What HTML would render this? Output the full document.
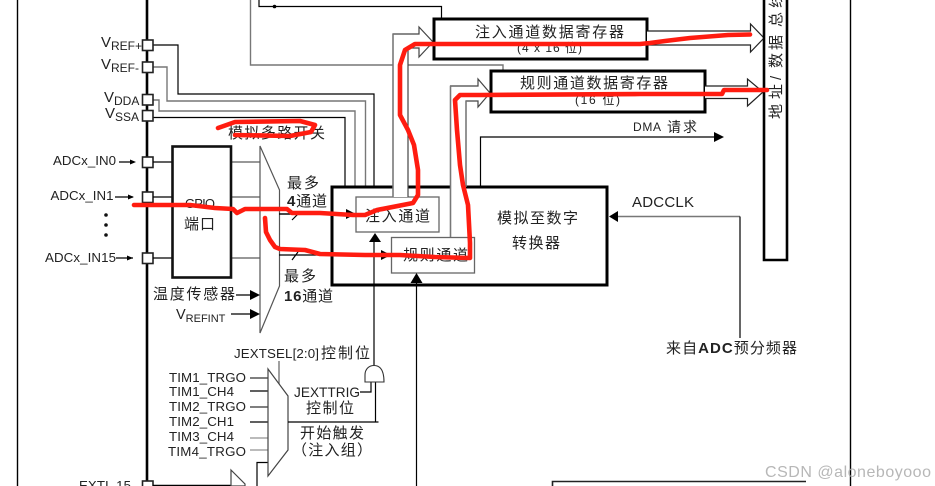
<!DOCTYPE html>
<html><head><meta charset="utf-8">
<style>
html,body{margin:0;padding:0;background:#fff;width:935px;height:486px;overflow:hidden}
svg{display:block}
text{font-family:"Liberation Sans","Noto Sans CJK SC",sans-serif;fill:#222}
.c{font-size:15px}
.l{font-size:13.3px}
.k{fill:none;stroke:#000;stroke-width:1.2}
.g{fill:none;stroke:#777;stroke-width:1.4}
.b{fill:#fff;stroke:#000;stroke-width:3}
.p{fill:#fff;stroke:#222;stroke-width:1.6}
.h{fill:#fff;stroke:#222;stroke-width:1.2}
.r{fill:none;stroke:#ff1c10;stroke-width:4.6;stroke-linejoin:round;stroke-linecap:round}
.base{filter:blur(.3px)}
</style></head><body>
<svg width="935" height="486" viewBox="0 0 935 486" xmlns="http://www.w3.org/2000/svg">
<rect width="935" height="486" fill="#fff"/>
<g class="base">
<!-- frame lines -->
<path d="M17.5 0V486M850.5 0V486" class="k" style="stroke-width:1.4"/>
<path d="M147 0V486" fill="none" stroke="#000" stroke-width="2.6"/>
<!-- top wires -->
<path d="M259 0V6.5H441.5V19" class="k"/>
<circle cx="274.5" cy="6.5" r="1.8" fill="#000"/>
<path d="M250.5 0V65H503V71" class="g"/>
<!-- supply wires -->
<path d="M153 45H178V94H374V187" class="k"/>
<path d="M153 67H167V101H365.5V187" class="g"/>
<path d="M153 100H159V111H355V187" class="g"/>
<path d="M153 117.5H345V187" class="k"/>
<!-- pins -->
<g class="p">
<rect x="142.5" y="40" width="10.5" height="10.5"/>
<rect x="142.5" y="62" width="10.5" height="10.5"/>
<rect x="142.5" y="94.5" width="10.5" height="10.5"/>
<rect x="142.5" y="110.5" width="10.5" height="10.5"/>
<rect x="142.5" y="157" width="10.5" height="10.5"/>
<rect x="142.5" y="192" width="10.5" height="10.5"/>
<rect x="142.5" y="253" width="10.5" height="10.5"/>
<rect x="142.5" y="481" width="10.5" height="10.5"/>
</g>
<!-- pin labels -->
<text x="101" y="47" font-size="15">V<tspan font-size="12" dy="3">REF+</tspan></text>
<text x="101" y="69" font-size="15">V<tspan font-size="12" dy="3">REF-</tspan></text>
<text x="104" y="102" font-size="15">V<tspan font-size="12" dy="3">DDA</tspan></text>
<text x="105" y="118" font-size="15">V<tspan font-size="12" dy="3">SSA</tspan></text>
<text class="l" x="53" y="165" textLength="63">ADCx_IN0</text>
<text class="l" x="50.5" y="200" textLength="63">ADCx_IN1</text>
<text class="l" x="45" y="262" textLength="71">ADCx_IN15</text>
<text class="l" x="79" y="490" textLength="52">EXTI_15</text>
<path d="M119 162H134M115 197H133M116 258H133" class="k"/>
<path d="M136 162l-6-2.5v5zM134 197l-6-2.5v5zM133 258l-6-2.5v5z" fill="#000"/>
<circle cx="106" cy="215" r="1.8" fill="#111"/><circle cx="106" cy="225" r="1.8" fill="#111"/><circle cx="106" cy="235" r="1.8" fill="#111"/>
<!-- GPIO -->
<path d="M153 162H172M153 197H172M153 258H172" class="k"/>
<path d="M231 162H260M231 197H260M231 258H260" class="g"/>
<rect x="172.5" y="146.5" width="58.5" height="131" fill="#fff" stroke="#111" stroke-width="2.6"/>
<text x="185" y="208" font-size="13" textLength="30">GPIO</text>
<text class="c" x="184" y="229" textLength="31">端口</text>
<!-- analog mux -->
<path d="M260 146L279.5 190V286L260 333Z" fill="#fff" stroke="#555" stroke-width="1.2"/>
<text class="c" x="228" y="138" textLength="97">模拟多路开关</text>
<text class="c" x="287" y="188" textLength="32">最多</text>
<text class="c" x="287" y="206" textLength="40"><tspan font-weight="bold">4</tspan>通道</text>
<text class="c" x="284" y="281" textLength="32">最多</text>
<text class="c" x="284" y="301" textLength="49"><tspan font-weight="bold">16</tspan>通道</text>
<text class="c" x="153" y="299" textLength="82">温度传感器</text>
<text x="176" y="319" font-size="14.5">V<tspan font-size="11" dy="3">REFINT</tspan></text>
<path d="M236 295H250M231 314H250" class="k"/>
<path d="M260 295l-10-5v10zM260 314l-10-5v10z" fill="#000"/>
<!-- channel wires -->
<path d="M279 214H348M279 255H382" class="k"/>
<path d="M292 220L298 214M292 260L298 252" class="k"/>
<path d="M356 214l-10-5v10zM391 255l-10-5v10z" fill="#000"/>
<!-- ADC box -->
<rect x="332" y="187" width="275" height="98" class="b"/>
<path d="M279 214H348M345 255H382" class="k"/>
<path d="M356 214l-10-5v10zM391 255l-10-5v10z" fill="#000"/>
<rect x="356" y="197" width="83" height="35" fill="#fff" stroke="#666" stroke-width="1.3"/>
<rect x="391.5" y="237.5" width="83" height="35.5" fill="#fff" stroke="#666" stroke-width="1.3"/>
<path d="M374 242V382" class="k"/>
<path d="M375 233l-6 9h12z" fill="#000"/>
<path d="M416.5 486V283" class="k"/>
<path d="M416.5 273l-6 10h12z" fill="#000"/>
<text class="c" x="365" y="221" textLength="65">注入通道</text>
<text class="c" x="403" y="260" textLength="65">规则通道</text>
<text class="c" x="497" y="223" textLength="81">模拟至数字</text>
<text class="c" x="512" y="248" textLength="48">转换器</text>
<!-- hollow arrows to registers -->
<path d="M393 197V34H419V27L433 42L419 57V48H408V197" fill="#fff" stroke="#444" stroke-width="1.2"/>
<path d="M393 34V197" class="g"/>
<path d="M450.5 237V86H478V79L490 93L478 107V101H466V187" fill="#fff" stroke="#444" stroke-width="1.2"/>
<path d="M450.5 86V237M466 101V187" class="g"/>
<!-- registers -->
<rect x="434" y="19" width="213" height="40" class="b"/>
<rect x="491" y="71" width="214" height="41" class="b"/>
<text class="c" x="475" y="37" textLength="149">注入通道数据寄存器</text>
<text x="517" y="52" font-size="12" textLength="65">(4 x 16 位)</text>
<text class="c" x="520" y="88" textLength="148">规则通道数据寄存器</text>
<text x="575" y="104" font-size="12" textLength="45">(16 位)</text>
<!-- output arrows -->
<path d="M647 31H750.5V24L764 38L750.5 52V45H647" class="h"/>
<path d="M705 86H747.5V79L763 92L747.5 106V98.5H705" class="h"/>
<!-- bus -->
<path d="M764 0V260H787V0" fill="#fff" stroke="#000" stroke-width="2.6"/>
<g font-size="15">
<text transform="translate(781,119) rotate(-90)">地</text>
<text transform="translate(781,99) rotate(-90)">址</text>
<text transform="translate(781,80) rotate(-90)">/</text>
<text transform="translate(781,68) rotate(-90)">数</text>
<text transform="translate(781,50) rotate(-90)">据</text>
<text transform="translate(781,27) rotate(-90)">总</text>
<text transform="translate(781,8) rotate(-90)">线</text>
</g>
<!-- DMA -->
<path d="M480.5 187V137H714" class="k"/>
<path d="M724 137l-10-5v10z" fill="#000"/>
<text x="633" y="131" font-size="12" textLength="28">DMA</text>
<text x="667" y="132" font-size="14" textLength="30">请求</text>
<!-- ADCCLK -->
<path d="M618 216.5H740" class="g"/>
<path d="M740 216.5V338" class="k"/>
<path d="M609 216.5l9-5.5v11z" fill="#000"/>
<text x="632" y="207" font-size="15" textLength="62">ADCCLK</text>
<text class="c" x="666" y="353" textLength="131">来自<tspan font-weight="bold">ADC</tspan>预分频器</text>
<!-- trigger mux -->
<path d="M279 361V384" class="g"/>
<path d="M250 378H268M250 407H268" stroke="#555" stroke-width="1.6" fill="none"/>
<path d="M250 391H268M250 422H268" class="k"/>
<path d="M250 438H268M250 450H268" class="g" style="stroke-width:1"/>
<path d="M257 486V462.5H268" class="k"/>
<path d="M268 369L288 396V450L268 476Z" fill="#fff" stroke="#444" stroke-width="1.2"/>
<path d="M288 422H378.5M375.5 422V382M360 392H371V382" class="k"/>
<path d="M365 382V375C365 369 369 365.5 374 365.5C380 365.5 384 370 384 382Z" fill="#fff" stroke="#333" stroke-width="1.1"/>
<text class="l" x="169" y="382" textLength="77">TIM1_TRGO</text>
<text class="l" x="169" y="396" textLength="65">TIM1_CH4</text>
<text class="l" x="169" y="411" textLength="77">TIM2_TRGO</text>
<text class="l" x="169" y="426" textLength="65">TIM2_CH1</text>
<text class="l" x="169" y="441" textLength="65">TIM3_CH4</text>
<text class="l" x="168" y="456" textLength="78">TIM4_TRGO</text>
<text x="234" y="358" font-size="13.3" textLength="85">JEXTSEL[2:0]</text>
<text class="c" x="321" y="358" textLength="49">控制位</text>
<text x="294" y="397" font-size="13.6" textLength="66">JEXTTRIG</text>
<text class="c" x="306" y="413" textLength="48">控制位</text>
<text class="c" x="300" y="438" textLength="64">开始触发</text>
<text class="c" x="292" y="455" textLength="80">（注入组）</text>
<!-- bottom -->
<path d="M153 485.5H231" class="k" style="stroke-width:1.6"/>
<path d="M231 470L245 484V486H231Z" fill="#fff" stroke="#444" stroke-width="1.2"/>
<path d="M552.5 486V481.5H806" fill="none" stroke="#222" stroke-width="1.6"/>
</g>
<!-- red annotations -->
<path class="r" d="M218 128L235 122L300 121L315 125L311 132L290 136L235 135"/>
<path class="r" d="M134 205L190 205L215 208L233 209L237 213L245 209L287 209L292 213L320 213L353 215L365 215L377 210L413 203L418 195L418 170L414 145L408 130L400 115L400 65L405 50L415 44L467 44L640 44L650 43L665 41L690 38L728 35L750 34.5"/>
<path class="r" d="M265 218L266 232L270 240L275 247L280 249L305 250L320 254L365 255L400 255L435 257L470 258L470 243L468 205L463 185L460 165L457 130L455 100L460 95L480 95L640 94L662 94L722 94L724 90L767 90"/>
<!-- watermark -->
<text x="765" y="477" font-size="16" textLength="166" style="fill:#aaa;fill-opacity:.85">CSDN @aloneboyooo</text>
</svg>
</body></html>
